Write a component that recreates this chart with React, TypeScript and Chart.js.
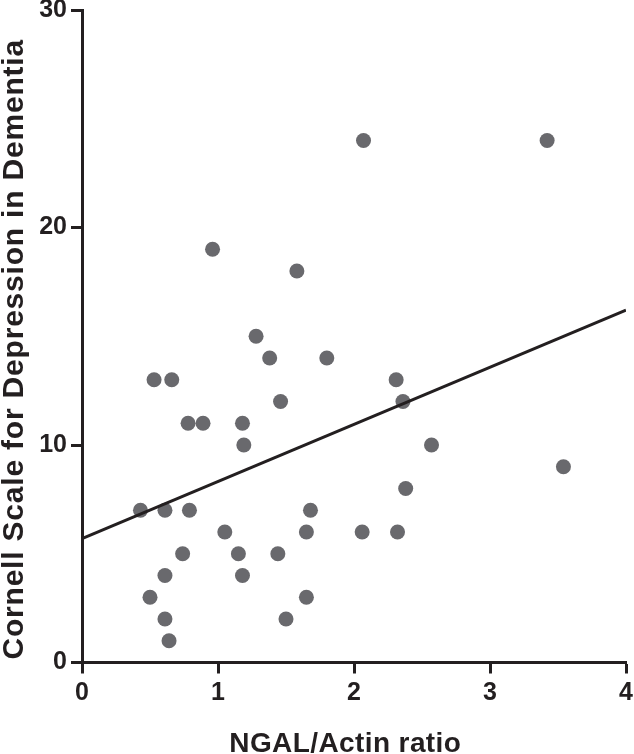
import React, { useEffect, useRef } from "react";
import { Chart, registerables } from "chart.js";

Chart.register(...registerables);

// ---- data ----
const ngalActinRatio = [
  0.43, 0.5, 0.53, 0.61, 0.61, 0.61, 0.64, 0.66, 0.74, 0.78, 0.79, 0.89, 0.96,
  1.05, 1.15, 1.18, 1.19, 1.18, 1.28, 1.38, 1.44, 1.46, 1.5, 1.58, 1.65, 1.65,
  1.68, 1.8, 2.06, 2.07, 2.31, 2.32, 2.36, 2.38, 2.57, 3.42, 3.54,
];
const cornellScore = [
  7, 3, 13, 7, 4, 2, 1, 13, 5, 11, 7, 11, 19,
  6, 5, 11, 10, 4, 15, 14, 5, 12, 2, 18, 6, 3,
  7, 14, 6, 24, 13, 6, 12, 8, 10, 24, 9,
];
const fitLineX = [0, 4];
const fitLineY = [5.7, 16.2];
const xTickValues = [0, 1, 2, 3, 4];
const yTickValues = [0, 10, 20, 30];
const xAxisTitle = "NGAL/Actin ratio";
const yAxisTitle = "Cornell Scale for Depression in Dementia";

const INK = "#231f20";
const DOT = "#69696d";
const FONT_FAMILY = '"Liberation Sans", Arial, Helvetica, sans-serif';

const W = 634;
const H = 754;

const axisTitlesPlugin = {
  id: "axisTitlesCustom",
  afterDraw(chart: any) {
    const ctx = chart.ctx as any;
    const ca = chart.chartArea;
    ctx.save();
    ctx.fillStyle = INK;
    // x title
    ctx.font = `bold 28px ${FONT_FAMILY}`;
    ctx.letterSpacing = "0.4px";
    ctx.textAlign = "center";
    ctx.textBaseline = "alphabetic";
    ctx.fillText(xAxisTitle, ca.left + (ca.right - ca.left) * 0.484, chart.height - 2);
    // y title
    ctx.font = `bold 30px ${FONT_FAMILY}`;
    ctx.letterSpacing = "0.8px";
    ctx.translate(23, ca.top + (ca.bottom - ca.top) * 0.52);
    ctx.rotate(-Math.PI / 2);
    ctx.fillText(yAxisTitle, 0, 0);
    ctx.restore();
  },
};

export default function App() {
  const canvasRef = useRef<HTMLCanvasElement | null>(null);

  useEffect(() => {
    document.body.style.margin = "0";
    const canvas = canvasRef.current;
    if (!canvas) return;

    const points = ngalActinRatio.map((x, i) => ({ x, y: cornellScore[i] }));
    const fit = fitLineX.map((x, i) => ({ x, y: fitLineY[i] }));

    const tickFont = { family: FONT_FAMILY, size: 25, weight: "bold" as const };

    const chart = new Chart(canvas, {
      type: "scatter",
      data: {
        datasets: [
          {
            type: "line",
            data: fit,
            borderColor: INK,
            borderWidth: 3,
            pointRadius: 0,
            fill: false,
            order: 0,
          } as any,
          {
            type: "scatter",
            data: points,
            pointRadius: 7.5,
            pointBackgroundColor: DOT,
            pointBorderWidth: 0,
            pointBorderColor: DOT,
            order: 1,
          },
        ],
      },
      options: {
        responsive: false,
        animation: false,
        events: [],
        layout: { padding: { top: 10, right: 8, left: 0, bottom: 0 } },
        plugins: {
          legend: { display: false },
          tooltip: { enabled: false },
          title: { display: false },
        },
        scales: {
          x: {
            type: "linear",
            min: 0,
            max: 4,
            afterBuildTicks: (s: any) => {
              s.ticks = xTickValues.map((v) => ({ value: v }));
            },
            afterFit: (s: any) => {
              s.height = H - 662.5;
              s.paddingLeft = 0;
              s.paddingRight = 0;
            },
            ticks: { font: tickFont, color: INK, padding: 5 },
            grid: {
              drawOnChartArea: false,
              drawTicks: true,
              tickLength: 11,
              tickWidth: 3,
              tickColor: INK,
            },
            border: { display: true, color: INK, width: 3 },
          },
          y: {
            type: "linear",
            min: 0,
            max: 30,
            afterBuildTicks: (s: any) => {
              s.ticks = yTickValues.map((v) => ({ value: v }));
            },
            afterFit: (s: any) => {
              s.width = 82;
              s.paddingTop = 0;
              s.paddingBottom = 0;
            },
            ticks: { font: tickFont, color: INK, padding: 4 },
            grid: {
              drawOnChartArea: false,
              drawTicks: true,
              tickLength: 11,
              tickWidth: 3,
              tickColor: INK,
            },
            border: { display: true, color: INK, width: 3 },
          },
        },
      },
      plugins: [axisTitlesPlugin],
    });

    return () => {
      chart.destroy();
    };
  }, []);

  return (
    <div style={{ width: W, height: H, position: "relative", background: "#fff" }}>
      <canvas ref={canvasRef} width={W} height={H} style={{ display: "block" }} />
    </div>
  );
}
